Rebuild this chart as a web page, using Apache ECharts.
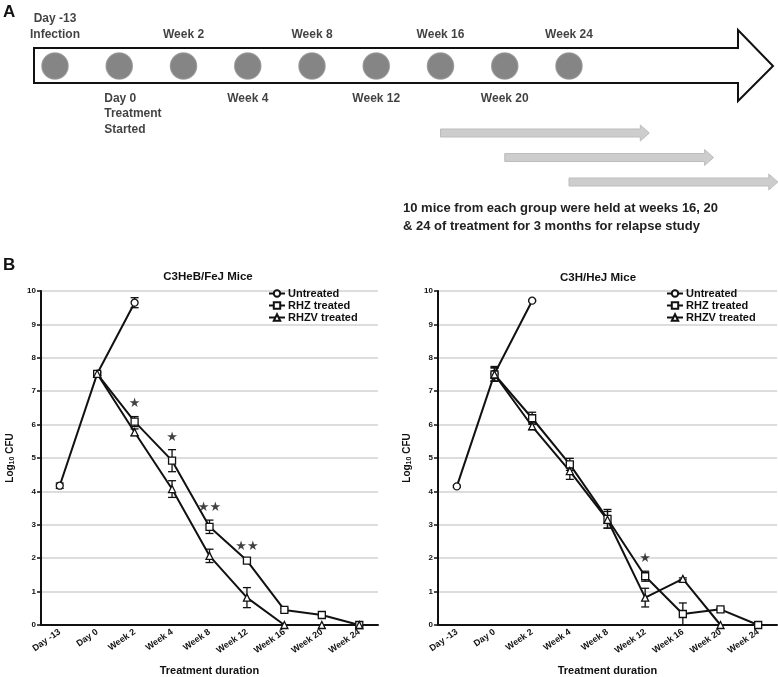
<!DOCTYPE html>
<html><head><meta charset="utf-8">
<script src="https://cdn.jsdelivr.net/npm/echarts@6/dist/echarts.min.js"></script>
<style>html,body{margin:0;padding:0;background:#fff}#c{width:778px;height:677px}</style>
</head><body><div id="c"></div>
<script>
// ---------- Panel A: study timeline ----------
const timelineStops = ['Day -13\nInfection','Day 0\nTreatment\nStarted','Week 2','Week 4','Week 8','Week 12','Week 16','Week 20','Week 24'];
const relapseStartStops = [6, 7, 8];      // held at weeks 16, 20, 24
const relapseHoldWeeks = 13;              // 3 months
const weeksPerStop = 4;                   // spacing of later stops
const relapseNote = '10 mice from each group were held at weeks 16, 20\n& 24 of treatment for 3 months for relapse study';

// ---------- Panel B ----------
const categories = ['Day -13','Day 0','Week 2','Week 4','Week 8','Week 12','Week 16','Week 20','Week 24'];
const seriesNames = ['Untreated','RHZ treated','RHZV treated'];
const yMin = 0, yMax = 10, yStep = 1;

// C3HeB/FeJ mice (log10 CFU, mean and error)
const feUntreated    = [4.17, 7.52, 9.65];
const feUntreatedErr = [0.08, 0.05, 0.15];
const feRHZ          = [null, 7.52, 6.09, 4.92, 2.94, 1.93, 0.45, 0.30, 0];
const feRHZErr       = [null, 0.05, 0.15, 0.33, 0.20, 0.05, 0.05, 0.03, 0];
const feRHZV         = [null, 7.52, 5.77, 4.07, 2.07, 0.82, 0, 0, 0];
const feRHZVErr      = [null, 0.05, 0.10, 0.25, 0.20, 0.30, 0, 0, 0];
const feSig          = ['', '', '★', '★', '★★', '★★', '', '', ''];

// C3H/HeJ mice
const heUntreated    = [4.15, 7.52, 9.71];
const heUntreatedErr = [0.03, 0.22, 0.02];
const heRHZ          = [null, 7.50, 6.19, 4.81, 3.18, 1.46, 0.33, 0.47, 0];
const heRHZErr       = [null, 0.20, 0.18, 0.18, 0.28, 0.15, 0.33, 0.03, 0];
const heRHZV         = [null, 7.50, 5.95, 4.61, 3.15, 0.82, 1.38, 0, null];
const heRHZVErr      = [null, 0.20, 0.10, 0.25, 0.25, 0.28, 0.03, 0, null];
const heSig          = ['', '', '', '', '', '★', '', '', ''];

const FONT = '"Liberation Sans", Arial, sans-serif';
const INK = '#111';

function lineSeries(name, data, idx, symbol) {
  return {
    type: 'line', name, data, xAxisIndex: idx, yAxisIndex: idx,
    symbol, symbolSize: 7, showAllSymbol: true, connectNulls: false, z: 4,
    lineStyle: { color: INK, width: 2 },
    itemStyle: { color: '#fff', borderColor: INK, borderWidth: 1.3 },
    emphasis: { disabled: true }
  };
}
function errSeries(vals, errs, idx) {
  const data = [];
  vals.forEach((v, i) => { if (v != null && errs[i]) data.push([i, Math.max(0, v - errs[i]), v + errs[i]]); });
  return {
    type: 'custom', xAxisIndex: idx, yAxisIndex: idx, data, z: 3, silent: true,
    encode: { x: 0, y: [1, 2] },
    renderItem(params, api) {
      const x = api.value(0);
      const lo = api.coord([x, api.value(1)]), hi = api.coord([x, api.value(2)]);
      const w = 4, st = { stroke: INK, lineWidth: 1.3 };
      return { type: 'group', children: [
        { type: 'line', shape: { x1: lo[0], y1: lo[1], x2: hi[0], y2: hi[1] }, style: st },
        { type: 'line', shape: { x1: hi[0] - w, y1: hi[1], x2: hi[0] + w, y2: hi[1] }, style: st },
        { type: 'line', shape: { x1: lo[0] - w, y1: lo[1], x2: lo[0] + w, y2: lo[1] }, style: st }
      ]};
    }
  };
}
function sigSeries(sig, vals, errs, idx) {
  const data = [];
  sig.forEach((s, i) => { if (s) data.push([i, vals[i] + (errs[i] || 0), s]); });
  return {
    type: 'scatter', xAxisIndex: idx, yAxisIndex: idx, data, symbolSize: 2, z: 5, silent: true,
    itemStyle: { color: 'rgba(0,0,0,0)' },
    label: { show: true, position: 'top', distance: 5, formatter: p => p.value[2],
             color: INK, fontSize: 13, fontFamily: 'DejaVu Sans' }
  };
}

const gridsB = [
  { left: 41, top: 291, width: 337, height: 338 },
  { left: 438, top: 291, width: 339, height: 338 }
];
function xAxisB(gi) {
  return {
    type: 'category', gridIndex: gi, data: categories, boundaryGap: true,
    axisLine: { lineStyle: { color: INK, width: 2 } }, axisTick: { show: false },
    axisLabel: { rotate: 35, fontSize: 9, fontWeight: 'bold', color: INK, margin: 6, fontFamily: FONT, interval: 0 },
    name: 'Treatment duration', nameLocation: 'middle', nameGap: 40,
    nameTextStyle: { fontSize: 11, fontWeight: 'bold', color: INK, fontFamily: FONT }
  };
}
function yAxisB(gi) {
  return {
    type: 'value', gridIndex: gi, min: yMin, max: yMax, interval: yStep,
    axisLine: { show: true, lineStyle: { color: INK, width: 2 } },
    axisTick: { show: true, length: 4, lineStyle: { color: INK, width: 1.5 } },
    axisLabel: { fontSize: 8, fontWeight: 'bold', color: INK, margin: 5, fontFamily: FONT },
    splitLine: { show: true, lineStyle: { color: '#d2d2d2', width: 1.5 } },
    name: 'Log{sub|10} CFU', nameLocation: 'middle', nameGap: 25,
    nameTextStyle: { fontSize: 10, fontWeight: 'bold', color: INK, fontFamily: FONT,
      rich: { sub: { fontSize: 7, fontWeight: 'bold', color: INK, fontFamily: FONT, padding: [5, 0, 0, 0] } } }
  };
}

// timeline stops
const stopData = timelineStops.map((name, i) => {
  const above = i % 2 === 0;
  const multiBelow = !above && name.indexOf('\n') >= 0;
  return { value: [i, 0.5], label: {
    show: true, formatter: name, position: above ? 'top' : 'bottom', distance: above ? 10 : 11,
    align: multiBelow ? 'left' : 'center', offset: multiBelow ? [-15, 0] : [0, 0] } };
});
const relapseData = relapseStartStops.map((s, r) => [s, r, s + relapseHoldWeeks / weeksPerStop]);

const option = {
  animation: false,
  backgroundColor: '#fff',
  grid: [
    { left: 55, top: 46, width: 514, height: 40 },
    { left: 55, top: 133, width: 514, height: 49 },
    gridsB[0], gridsB[1]
  ],
  xAxis: [
    { type: 'value', gridIndex: 0, min: 0, max: timelineStops.length - 1, show: false },
    { type: 'value', gridIndex: 1, min: 0, max: timelineStops.length - 1, show: false },
    xAxisB(2), xAxisB(3)
  ],
  yAxis: [
    { type: 'value', gridIndex: 0, min: 0, max: 1, show: false },
    { type: 'value', gridIndex: 1, min: 0, max: relapseStartStops.length - 1, inverse: true, show: false },
    yAxisB(2), yAxisB(3)
  ],
  legend: [0, 1].map(k => ({
    left: k === 0 ? 268 : 666, top: 288, orient: 'vertical', padding: 0, itemGap: 1,
    itemWidth: 16, itemHeight: 8, data: seriesNames, selectedMode: false,
    textStyle: { fontSize: 11, fontWeight: 'bold', color: INK, fontFamily: FONT, padding: [0, 0, 0, -2] }
  })),
  graphic: [
    { type: 'polygon', z: 0, shape: { points: [[34,48],[738,48],[738,30],[773,66],[738,101],[738,83],[34,83]] },
      style: { fill: '#fff', stroke: INK, lineWidth: 2 } },
    { type: 'text', x: 3, y: 4, style: { text: 'A', font: 'bold 17px ' + FONT, fill: INK } },
    { type: 'text', x: 3, y: 257, style: { text: 'B', font: 'bold 17px ' + FONT, fill: INK } },
    { type: 'text', x: 403, y: 199, style: { text: relapseNote, font: 'bold 13px ' + FONT, fill: '#222', lineHeight: 18 } },
    { type: 'text', x: 208, y: 277, style: { text: 'C3HeB/FeJ Mice', font: 'bold 11.5px ' + FONT, fill: INK, align: 'center', verticalAlign: 'middle' } },
    { type: 'text', x: 598, y: 278, style: { text: 'C3H/HeJ Mice', font: 'bold 11.5px ' + FONT, fill: INK, align: 'center', verticalAlign: 'middle' } }
  ],
  series: [
    { type: 'scatter', xAxisIndex: 0, yAxisIndex: 0, data: stopData, symbolSize: 26, z: 3, silent: true,
      itemStyle: { color: '#666', borderColor: '#8c8c8c', borderWidth: 1.5 },
      label: { color: INK, fontSize: 12, fontWeight: 'bold', fontFamily: FONT, lineHeight: 15.5 } },
    { type: 'custom', xAxisIndex: 1, yAxisIndex: 1, data: relapseData, silent: true, z: 2, clip: false,
      encode: { x: [0, 2], y: 1 },
      renderItem(params, api) {
        const a = api.coord([api.value(0), api.value(1)]);
        const b = api.coord([api.value(2), api.value(1)]);
        const h = 4, hh = 8, hl = 9, y = a[1];
        return { type: 'polygon', shape: { points: [
          [a[0], y - h], [b[0] - hl, y - h], [b[0] - hl, y - hh], [b[0], y],
          [b[0] - hl, y + hh], [b[0] - hl, y + h], [a[0], y + h]] },
          style: { fill: '#cdcdcd', stroke: '#bdbdbd', lineWidth: 1 } };
      } },

    errSeries(feUntreated, feUntreatedErr, 2),
    errSeries(feRHZ, feRHZErr, 2),
    errSeries(feRHZV, feRHZVErr, 2),
    lineSeries(seriesNames[0], feUntreated, 2, 'circle'),
    lineSeries(seriesNames[1], feRHZ, 2, 'rect'),
    lineSeries(seriesNames[2], feRHZV, 2, 'triangle'),
    sigSeries(feSig, feRHZ, feRHZErr, 2),

    errSeries(heUntreated, heUntreatedErr, 3),
    errSeries(heRHZ, heRHZErr, 3),
    errSeries(heRHZV, heRHZVErr, 3),
    lineSeries(seriesNames[0], heUntreated, 3, 'circle'),
    lineSeries(seriesNames[1], heRHZ, 3, 'rect'),
    lineSeries(seriesNames[2], heRHZV, 3, 'triangle'),
    sigSeries(heSig, heRHZ, heRHZErr, 3)
  ]
};
const chart = echarts.init(document.getElementById('c'), null, { renderer: 'canvas' });
chart.setOption(option);
</script>
</body></html>
